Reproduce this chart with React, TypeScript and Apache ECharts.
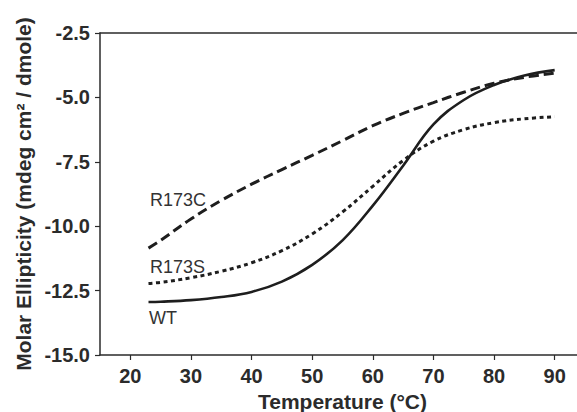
import React, { useEffect, useRef } from "react";
import * as echarts from "echarts";

const temps = [23, 25, 30, 35, 40, 45, 50, 55, 60, 65, 70, 75, 80, 85, 90];
const wt = [-12.94, -12.93, -12.87, -12.75, -12.55, -12.15, -11.5, -10.55, -9.2, -7.65, -6.05, -5.1, -4.52, -4.15, -3.94];
const r173s = [-12.22, -12.18, -12.0, -11.75, -11.42, -10.95, -10.3, -9.45, -8.45, -7.45, -6.7, -6.25, -5.98, -5.83, -5.75];
const r173c = [-10.85, -10.55, -9.72, -9.0, -8.37, -7.8, -7.25, -6.68, -6.1, -5.62, -5.2, -4.8, -4.45, -4.22, -4.06];
const xTicks = [20, 30, 40, 50, 60, 70, 80, 90];
const yTicks = [-15, -12.5, -10, -7.5, -5, -2.5];

const pairs = (ys: number[]) => temps.map((t, i) => [t, ys[i]]);

export default function App() {
  const ref = useRef<HTMLDivElement>(null);
  useEffect(() => {
    if (!ref.current) return;
    const chart = echarts.init(ref.current, undefined, { renderer: "svg" });
    const axisColor = "#2b2b2b";
    const lineColor = "#1e1e1e";
    chart.setOption({
      animation: false,
      backgroundColor: "#ffffff",
      grid: {
        left: 100,
        top: 33,
        width: 485,
        height: 322,
        show: false,
        outerBoundsMode: "none",
        containLabel: false,
      },
      xAxis: [
        {
          type: "value",
          min: 15,
          max: 95,
          interval: 5,
          name: "Temperature (°C)",
          nameLocation: "middle",
          nameGap: 33,
          nameTextStyle: { fontFamily: "Liberation Sans", fontWeight: "bold", fontSize: 21, color: "#2b2b2b" },
          axisLine: { show: true, lineStyle: { color: axisColor, width: 1.5 } },
          axisTick: {
            show: true,
            length: 5,
            lineStyle: { color: axisColor, width: 1.2 },
            customValues: xTicks,
          },
          axisLabel: {
            margin: 11,
            fontFamily: "Liberation Sans",
            fontWeight: "bold",
            fontSize: 20,
            color: "#2b2b2b",
            customValues: xTicks,
          },
          splitLine: { show: false },
        },
        {
          type: "value",
          position: "top",
          min: 15,
          max: 95,
          axisLine: { show: true, lineStyle: { color: axisColor, width: 1.5 } },
          axisTick: { show: false },
          axisLabel: { show: false },
          splitLine: { show: false },
        },
      ],
      yAxis: {
        type: "value",
        min: -15,
        max: -2.5,
        interval: 2.5,
        name: "Molar Ellipticity (mdeg cm² / dmole)",
        nameLocation: "middle",
        nameGap: 64,
        nameTextStyle: { fontFamily: "Liberation Sans", fontWeight: "bold", fontSize: 21, color: "#2b2b2b" },
        axisLine: { show: true, lineStyle: { color: axisColor, width: 1.5 } },
        axisTick: { show: true, length: 5, lineStyle: { color: axisColor, width: 1.2 }, customValues: yTicks },
        axisLabel: {
          margin: 10,
          fontFamily: "Liberation Sans",
          fontWeight: "bold",
          fontSize: 20,
          color: "#2b2b2b",
          customValues: yTicks,
          formatter: (v: number) => v.toFixed(1),
        },
        splitLine: { show: false },
      },
      series: [
        {
          name: "WT",
          type: "line",
          data: pairs(wt),
          smooth: 0.4,
          showSymbol: false,
          lineStyle: { color: lineColor, width: 2.6, type: "solid" },
        },
        {
          name: "R173S",
          type: "line",
          data: pairs(r173s),
          smooth: 0.4,
          showSymbol: false,
          lineStyle: { color: lineColor, width: 3, type: [4, 3.5] },
        },
        {
          name: "R173C",
          type: "line",
          data: pairs(r173c),
          smooth: 0.4,
          showSymbol: false,
          lineStyle: { color: lineColor, width: 3, type: [10, 5] },
        },
      ],
      graphic: [
        { type: "text", left: 150, top: 191, style: { text: "R173C", font: "18px 'Liberation Sans'", fill: "#333" } },
        { type: "text", left: 150, top: 258, style: { text: "R173S", font: "18px 'Liberation Sans'", fill: "#333" } },
        { type: "text", left: 149, top: 309, style: { text: "WT", font: "18px 'Liberation Sans'", fill: "#333" } },
      ],
    });
    return () => chart.dispose();
  }, []);
  return (
    <div style={{ position: "absolute", left: 0, top: 0, width: 577, height: 412, overflow: "hidden", background: "#fff" }}>
      <div ref={ref} style={{ width: 600, height: 412 }} />
    </div>
  );
}
